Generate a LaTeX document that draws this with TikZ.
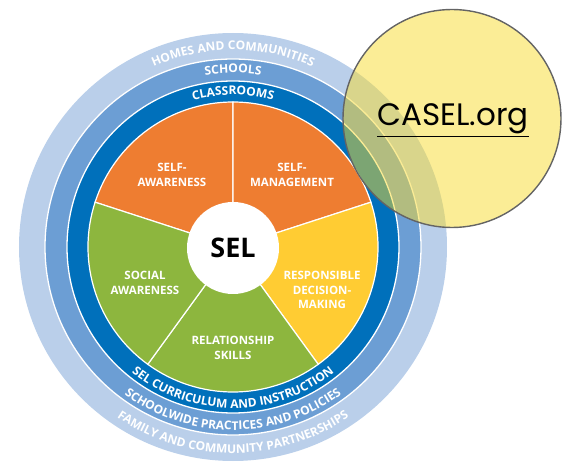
\documentclass[tikz,border=0pt]{standalone}
\usepackage{fontspec}
\setsansfont{Open Sans}
\newfontfamily\caselfont{Poppins}
\usepackage{tikz}
\usetikzlibrary{decorations.text}

\definecolor{casOrange}{RGB}{238,125,49}
\definecolor{casYellow}{RGB}{255,204,51}
\definecolor{casGreen}{RGB}{141,182,62}
\definecolor{casDark}{RGB}{0,112,187}
\definecolor{casMid}{RGB}{108,158,212}
\definecolor{casLight}{RGB}{186,207,234}
\definecolor{casGold}{RGB}{248,219,45}
\definecolor{casGray}{RGB}{100,100,100}

\newcommand\ringfont{\sffamily\bfseries\fontsize{12}{12}\selectfont\color{white}}

\tikzset{
  wedge_lbl/.style = {align=center, text=white, inner sep=0pt,
    font=\sffamily\bfseries\fontsize{11.5}{14.5}\selectfont},% comp. labels
  ring_sep/.style = {draw=white, line width=1.3pt},% thin white rings
  ring_txt/.style = {decorate, decoration={text along path,
    text={|\ringfont|#1}, text align=center}}% curved ring titles
}

\begin{document}
\begin{tikzpicture}[x=1pt,y=1pt]
\useasboundingbox (-233,-216) rectangle (332,247);

% rings
\fill[casLight] (0,0) circle (214);
\fill[casMid] (0,0) circle (188);
\fill[casDark] (0,0) circle (166);
\draw[ring_sep] (0,0) circle (188) (0,0) circle (166);

% the five wedges
\foreach \a/\col in {90/casOrange,18/casOrange,-54/casYellow,-126/casGreen,162/casGreen}
  \filldraw[fill=\col, draw=white, line width=1.2pt]
    (0,0) -- (\a:145) arc[start angle=\a, delta angle=72, radius=145] -- cycle;

\node[circle, fill=white, minimum size=92pt, inner sep=0pt,
  font=\sffamily\bfseries\fontsize{27}{27}\selectfont] (sel) at (0,-1) {SEL};

\node[wedge_lbl] (selfaw) at (-61,72) {SELF-\\AWARENESS};
\node[wedge_lbl] (selfmg) at (59,72) {SELF-\\MANAGEMENT};
\node[wedge_lbl] (socaw) at (-88,-36) {SOCIAL\\AWARENESS};
\node[wedge_lbl] (respdm) at (89,-43) {RESPONSIBLE\\DECISION-\\MAKING};
\node[wedge_lbl] (relsk) at (0,-101) {RELATIONSHIP\\SKILLS};

% ring titles, top and bottom
\path[ring_txt={HOMES AND COMMUNITIES}] (150:197) arc (150:30:197);
\path[ring_txt={SCHOOLS}] (150:174) arc (150:30:174);
\path[ring_txt={CLASSROOMS}] (150:152) arc (150:30:152);
\path[ring_txt={SEL CURRICULUM AND INSTRUCTION}] (200:161) arc (200:340:161);
\path[ring_txt={SCHOOLWIDE PRACTICES AND POLICIES}] (200:183) arc (200:340:183);
\path[ring_txt={FAMILY AND COMMUNITY PARTNERSHIPS}] (200:206) arc (200:340:206);

% link bubble
\node[circle, minimum size=218pt, inner sep=0pt, fill=casGold, fill opacity=0.5,
  draw=casGray, line width=1.4pt] (bubble) at (219,128.5) {};
\node[anchor=base, inner sep=0pt, font=\caselfont\fontsize{31}{31}\selectfont]
  (caselorg) at (220,121) {\underline{CASEL.org}};
\end{tikzpicture}
\end{document}
